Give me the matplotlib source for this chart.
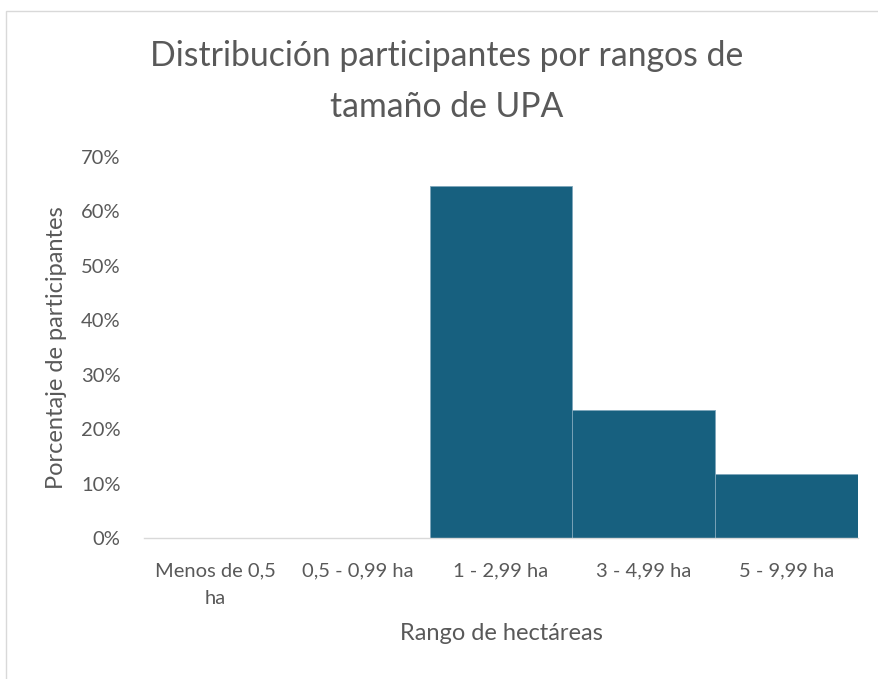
import matplotlib.pyplot as plt
from matplotlib.patches import Rectangle
from matplotlib.ticker import PercentFormatter

categories = ["Menos de 0,5\nha", "0,5 - 0,99 ha", "1 - 2,99 ha", "3 - 4,99 ha", "5 - 9,99 ha"]
shares = [0.0, 0.0, 0.647, 0.235, 0.118]
yticks = [0.0, 0.1, 0.2, 0.3, 0.4, 0.5, 0.6, 0.7]

text_color = "#595959"
bar_color = "#17607F"

plt.rcParams["font.family"] = ["Lato", "DejaVu Sans"]

fig = plt.figure(figsize=(8.79, 6.79), dpi=100)
ax = fig.add_axes([0.1638, 0.2072, 0.976 - 0.1638, 0.7692 - 0.2072])

x = range(len(categories))
ax.bar(x, shares, width=1.0, color=bar_color, edgecolor="#7fa6bb", linewidth=0.6)

ax.set_xlim(-0.5, len(categories) - 0.5)
ax.set_ylim(0, 0.7)
ax.set_yticks(yticks)
ax.yaxis.set_major_formatter(PercentFormatter(1.0, decimals=0))
ax.set_xticks(list(x))
ax.set_xticklabels(categories, fontsize=14.5, color=text_color, linespacing=1.8)
ax.tick_params(axis="y", labelsize=14.5, labelcolor=text_color, length=0, pad=17)
ax.tick_params(axis="x", length=0, pad=17)

for side in ["top", "right", "left"]:
    ax.spines[side].set_visible(False)
ax.spines["bottom"].set_color("#D9D9D9")
ax.spines["bottom"].set_linewidth(1.0)

ax.set_xlabel("Rango de hectáreas", fontsize=17, color=text_color)
ax.xaxis.set_label_coords(0.5, -0.222)
ax.set_ylabel("Porcentaje de participantes", fontsize=17, color=text_color)
ax.yaxis.set_label_coords(-0.108, 0.5)

fig.text(447 / 879, 1 - 66 / 679, "Distribución participantes por rangos de",
         ha="center", va="baseline", fontsize=24.3, color=text_color)
fig.text(447 / 879, 1 - 117 / 679, "tamaño de UPA",
         ha="center", va="baseline", fontsize=24.3, color=text_color)

# chart-area frame
fig.patches.append(Rectangle((6 / 879, -0.01), 1.0, 1 - 11 / 679 + 0.01,
                             transform=fig.transFigure, fill=False,
                             edgecolor="#D9D9D9", linewidth=1.0))

fig.savefig("out.png", dpi=100)
